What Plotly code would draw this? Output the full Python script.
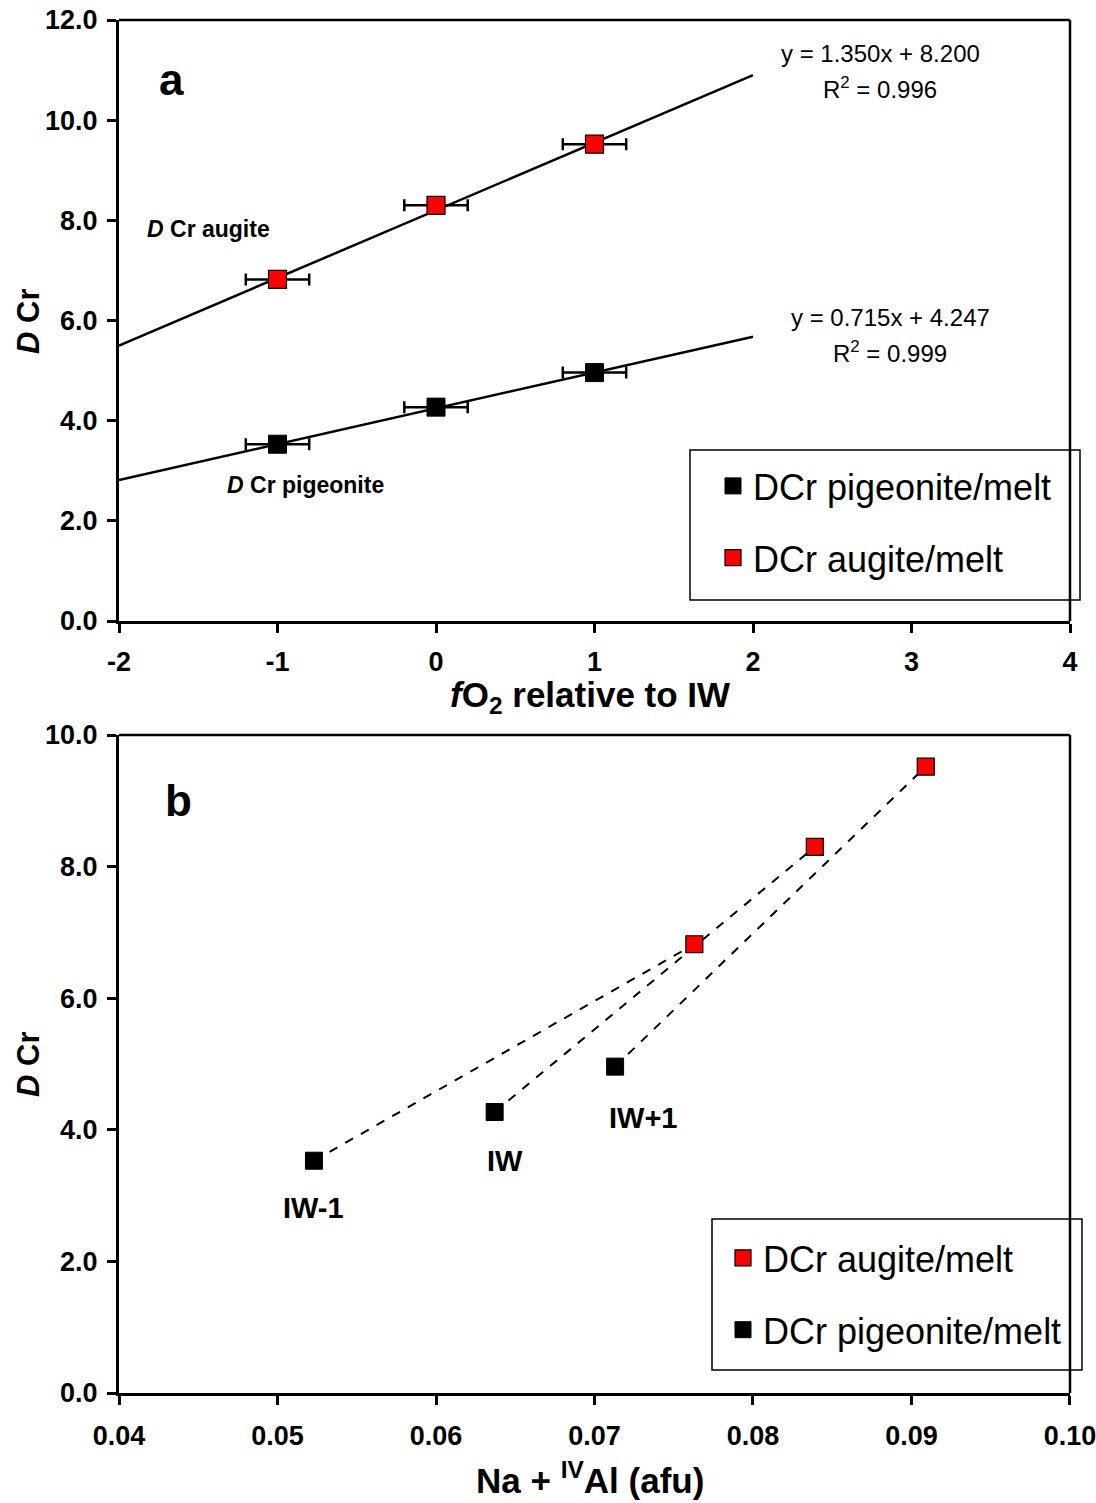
import plotly.graph_objects as go

# ---------------- data ----------------
fo2 = [-1, 0, 1]
aug_dcr = [6.82, 8.30, 9.52]
pig_dcr = [3.53, 4.27, 4.96]
fo2_err = [0.2, 0.2, 0.2]

aug_fit = (1.350, 8.200)
pig_fit = (0.715, 4.247)
fit_range = [-2, 2]

aug_naal = [0.0763, 0.0839, 0.0909]
pig_naal = [0.0523, 0.0637, 0.0713]
iw_labels = ["IW-1", "IW", "IW+1"]

x1_ticks = [-2, -1, 0, 1, 2, 3, 4]
y1_ticks = [0, 2, 4, 6, 8, 10, 12]
x2_ticks = [0.04, 0.05, 0.06, 0.07, 0.08, 0.09, 0.10]
x2_ticktext = ["0.04", "0.05", "0.06", "0.07", "0.08", "0.09", "0.10"]
y2_ticks = [0, 2, 4, 6, 8, 10]

W, H = 1096, 1503
def px(x):
    return x / W
def py(y):
    return (H - y) / H

FONT = "Liberation Sans, Arial, sans-serif"
NARROW = "Liberation Sans Narrow, Arial Narrow, Liberation Sans, Arial, sans-serif"
RED = "#ff0000"

fig = go.Figure()

# ---------- panel a ----------
for (m, b) in [pig_fit, aug_fit]:
    fig.add_trace(go.Scatter(
        x=fit_range, y=[m * v + b for v in fit_range], mode="lines",
        line=dict(color="black", width=2.5), showlegend=False,
        xaxis="x", yaxis="y", hoverinfo="skip"))

fig.add_trace(go.Scatter(
    x=fo2, y=pig_dcr, mode="markers", name="DCr pigeonite/melt",
    marker=dict(symbol="square", size=18, color="black", line=dict(color="black", width=1)),
    error_x=dict(type="data", array=fo2_err, color="black", thickness=2.5, width=6),
    legend="legend", legendgroup="p1", xaxis="x", yaxis="y"))
fig.add_trace(go.Scatter(
    x=fo2, y=aug_dcr, mode="markers", name="DCr augite/melt",
    marker=dict(symbol="square", size=18, color=RED, line=dict(color="black", width=1.2)),
    error_x=dict(type="data", array=fo2_err, color="black", thickness=2.5, width=6),
    legend="legend", legendgroup="a1", xaxis="x", yaxis="y"))

# ---------- panel b ----------
for i in range(len(pig_naal)):
    fig.add_trace(go.Scatter(
        x=[pig_naal[i], aug_naal[i]], y=[pig_dcr[i], aug_dcr[i]], mode="lines",
        line=dict(color="black", width=2, dash="dash"), showlegend=False,
        xaxis="x2", yaxis="y2", hoverinfo="skip"))

fig.add_trace(go.Scatter(
    x=aug_naal, y=aug_dcr, mode="markers", name="DCr augite/melt",
    marker=dict(symbol="square", size=17, color=RED, line=dict(color="black", width=1.2)),
    legend="legend2", legendgroup="a2", xaxis="x2", yaxis="y2"))
fig.add_trace(go.Scatter(
    x=pig_naal, y=pig_dcr, mode="markers", name="DCr pigeonite/melt",
    marker=dict(symbol="square", size=17, color="black", line=dict(color="black", width=1)),
    legend="legend2", legendgroup="p2", xaxis="x2", yaxis="y2"))

axis_common = dict(
    showgrid=False, zeroline=False, showline=True, linecolor="black", linewidth=3,
    ticks="outside", ticklen=9, tickwidth=2.5, tickcolor="black", automargin=False,
    ticklabeloverflow="allow",
    tickfont=dict(family=FONT, size=27, color="black", weight="bold"),
)

legend_common = dict(
    xanchor="left", yanchor="top", bgcolor="rgba(0,0,0,0)", borderwidth=0,
    font=dict(family=FONT, size=36, color="black"),
    traceorder="grouped", tracegroupgap=22, itemsizing="trace", itemwidth=30,
)

xdom = [px(119), px(1070)]
fig.update_layout(
    width=W, height=H, margin=dict(l=0, r=0, t=0, b=0, autoexpand=False),
    paper_bgcolor="white", plot_bgcolor="white",
    xaxis=dict(domain=xdom, range=[-2.00001, 4.00001], tickvals=x1_ticks,
               ticktext=[str(v) for v in x1_ticks], anchor="y", ticklabelstandoff=6,
               **axis_common),
    yaxis=dict(domain=[py(621), py(20)], range=[0, 12.00001], tickvals=y1_ticks,
               tickformat=".1f", anchor="x", ticklabelstandoff=4, **axis_common),
    xaxis2=dict(domain=xdom, range=[0.039999, 0.100001],
                tickvals=x2_ticks, ticktext=x2_ticktext,
                anchor="y2", ticklabelstandoff=8, **axis_common),
    yaxis2=dict(domain=[py(1393), py(735)], range=[0, 10.00001], tickvals=y2_ticks,
                tickformat=".1f", anchor="x2", ticklabelstandoff=4, **axis_common),
    legend=dict(x=px(713), y=py(456), **legend_common),
    legend2=dict(x=px(723), y=py(1228), **legend_common),
    showlegend=True,
)

# legend boxes
for (x0, y0, x1, y1) in [(690, 450, 1080, 600), (712, 1219, 1082, 1370)]:
    fig.add_shape(type="rect", xref="paper", yref="paper",
                  x0=px(x0), x1=px(x1), y0=py(y1), y1=py(y0),
                  line=dict(color="black", width=1.5), fillcolor="white", layer="above")

# top/right frame lines
for xr, yr in [("x", "y"), ("x2", "y2")]:
    fig.add_shape(type="line", xref=f"{xr} domain", yref=f"{yr} domain",
                  x0=0, x1=1, y0=1, y1=1, line=dict(color="black", width=2.5))
    fig.add_shape(type="line", xref=f"{xr} domain", yref=f"{yr} domain",
                  x0=1, x1=1, y0=0, y1=1, line=dict(color="black", width=2.5))

def ann(text, x, y, size, family=FONT, **kw):
    fig.add_annotation(text=text, x=x, y=y, xref="paper", yref="paper",
                       showarrow=False, xanchor="center", yanchor="middle",
                       font=dict(family=family, size=size, color="black"), **kw)

ann("<b>a</b>", px(171), py(80), 44)
ann("<b>b</b>", px(178), py(800), 44)
ann("<b><i>D</i> Cr augite</b>", px(208), py(229), 23)
ann("<b><i>D</i> Cr pigeonite</b>", px(305), py(485), 23)
ann("y = 1.350x + 8.200", px(880), py(53), 24)
ann("R<sup>2</sup> = 0.996", px(880), py(88), 24)
ann("y = 0.715x + 4.247", px(890), py(317), 24)
ann("R<sup>2</sup> = 0.999", px(890), py(352), 24)

ann("<b><i>f</i>O<sub>2</sub> relative to IW</b>", px(590), py(697), 35, family=NARROW)
ann("<b>Na + <sup>IV</sup>Al (afu)</b>", px(590), py(1478), 35, family=NARROW)
ann("<b><i>D</i> Cr</b>", px(28), py(322), 31, family=NARROW, textangle=-90)
ann("<b><i>D</i> Cr</b>", px(28), py(1065), 31, family=NARROW, textangle=-90)

shifts = [(0, -47), (10, -49), (28, -51)]
for i, lab in enumerate(iw_labels):
    fig.add_annotation(text=f"<b>{lab}</b>", x=pig_naal[i], y=pig_dcr[i], xref="x2", yref="y2",
                       showarrow=False, xshift=shifts[i][0], yshift=shifts[i][1],
                       font=dict(family=FONT, size=29, color="black"))

fig.write_html("out.html", config={"displayModeBar": False},
               post_script="document.body.style.margin='0px';")
